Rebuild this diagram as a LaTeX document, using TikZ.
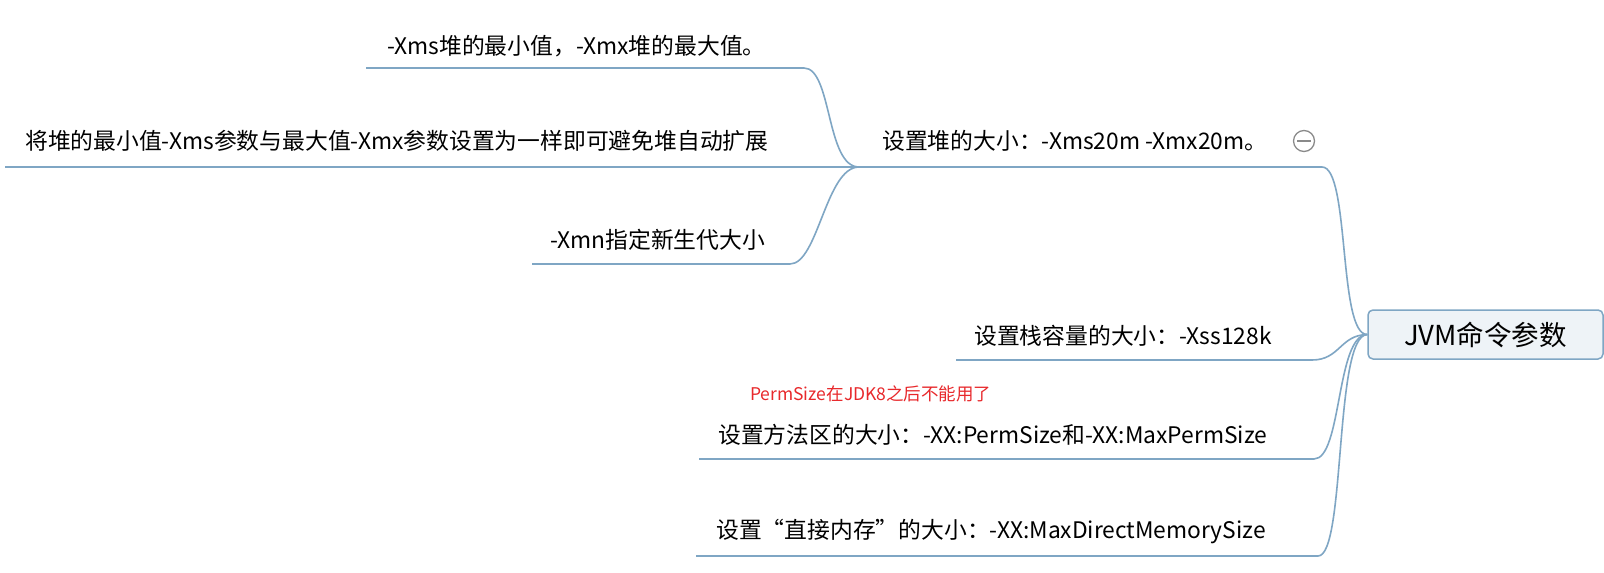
\documentclass[tikz,border=0pt]{standalone}
\usepackage{fontspec}
\setmainfont{Noto Sans CJK SC}
\definecolor{branch}{HTML}{7FA6C4}
\definecolor{boxfill}{HTML}{EEF3F7}
\definecolor{note}{HTML}{E8282B}
\definecolor{icon}{HTML}{8A8A8A}
\tikzset{
  lbl/.style={anchor=west, inner sep=0pt, font=\fontsize{22.8}{26}\selectfont},
  br/.style={draw=branch, line width=1.6pt},
}
\begin{document}
\begin{tikzpicture}[x=1pt,y=-1pt]
\useasboundingbox[fill=white] (0,0) rectangle (1604,573);
% root
\node[draw=branch, fill=boxfill, rounded corners=5pt, line width=1.5pt,
      minimum width=235pt, minimum height=49pt, inner sep=0pt,
      font=\fontsize{27.5}{30}\selectfont] (root) at (1485.5,334.5) {JVM命令参数};
% level 1 labels
\node[lbl] (heap) at (882,141) {设置堆的大小：-Xms20m -Xmx20m。};
\node[lbl] (stack) at (974,336) {设置栈容量的大小：-Xss128k};
\node[lbl, font=\fontsize{17.5}{20}\selectfont, text=note] (remark) at (750,394) {PermSize在JDK8之后不能用了};
\node[lbl] (method) at (718,435) {设置方法区的大小：-XX:PermSize和-XX:MaxPermSize};
\node[lbl] (direct) at (716,532) {设置“直接内存”的大小：-XX:MaxDirectMemorySize};
% level 2 labels
\node[lbl] (sub1) at (387,46) {-Xms堆的最小值，-Xmx堆的最大值。};
\node[lbl] (sub2) at (25,141) {将堆的最小值-Xms参数与最大值-Xmx参数设置为一样即可避免堆自动扩展};
\node[lbl] (sub3) at (550,240) {-Xmn指定新生代大小};
% collapse icon
\node[circle, draw=icon, line width=1.3pt, minimum size=21pt, inner sep=0pt] (fold) at (1304,141) {};
\draw[icon, line width=1.3pt] ([xshift=-7pt]fold.center) -- ([xshift=7pt]fold.center);
% underline coordinates
\coordinate (hL) at (859,167);
\coordinate (hR) at (1322,167);
\coordinate (sL) at (956,360);
\coordinate (sR) at (1312,360);
\coordinate (mL) at (699,459);
\coordinate (mR) at (1314,459);
\coordinate (dL) at (696,556);
\coordinate (dR) at (1318,556);
\coordinate (aL) at (366,68);
\coordinate (aR) at (804,68);
\coordinate (bL) at (5,167);
\coordinate (cL) at (532,264);
\coordinate (cR) at (790,264);
% root branches
\draw[br] (hL) -- (hR) .. controls (1350,167) and (1338,335) .. (root.west);
\draw[br] (sL) -- (sR) .. controls (1340,360) and (1340,335) .. (root.west);
\draw[br] (mL) -- (mR) .. controls (1342,459) and (1336,335) .. (root.west);
\draw[br] (dL) -- (dR) .. controls (1346,556) and (1334,335) .. (root.west);
% heap branches
\draw[br] (aL) -- (aR) .. controls (832,68) and (826,167) .. (hL);
\draw[br] (bL) -- (hL);
\draw[br] (cL) -- (cR) .. controls (818,264) and (826,167) .. (hL);
\end{tikzpicture}
\end{document}
